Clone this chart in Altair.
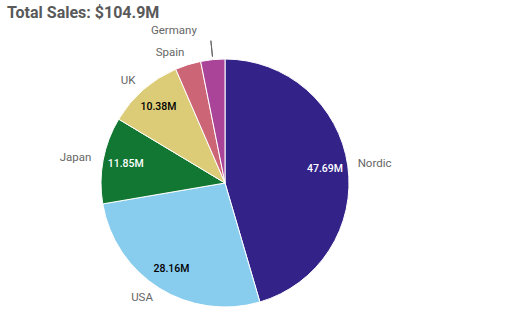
import altair as alt
import pandas as pd

regions = ["Nordic", "USA", "Japan", "UK", "Spain", "Germany"]
sales = [47.69, 28.16, 11.85, 10.38, 3.52, 3.30]
colors = ["#332288", "#88CCEE", "#117733", "#DDCC77", "#CC6677", "#AA4499"]
value_text = ["47.69M", "28.16M", "11.85M", "10.38M", "", ""]
value_color = ["white", "black", "white", "black", "black", "black"]

df = pd.DataFrame({
    "region": regions,
    "sales": sales,
    "order": list(range(len(regions))),
    "vlabel": value_text,
    "vcolor": value_color,
})

CX, CY = 225, 153
FONT = "Roboto"

base = alt.Chart(df).transform_joinaggregate(
    total="sum(sales)"
).transform_window(
    cum="sum(sales)", sort=[alt.SortField("order")], frame=[None, 0]
).transform_calculate(
    mid="(datum.cum - datum.sales / 2) / datum.total * 2 * PI",
    s="sin((datum.cum - datum.sales / 2) / datum.total * 2 * PI)",
)

pie = alt.Chart(df).mark_arc(radius=124, stroke="white", strokeWidth=1).encode(
    theta=alt.Theta("sales:Q", stack=True),
    color=alt.Color("region:N", scale=alt.Scale(domain=regions, range=colors), legend=None),
    order=alt.Order("order:Q"),
    x=alt.value(CX),
    y=alt.value(CY),
)

theta_mid = alt.Theta("mid:Q", scale=None, stack=False)

name_right = base.transform_filter("datum.region != 'Germany' && datum.s > 0").mark_text(
    radius=134, align="left", baseline="middle", fontSize=11.5, color="#666666", font=FONT
).encode(theta=theta_mid, text="region:N", x=alt.value(CX), y=alt.value(CY))

name_left = base.transform_filter("datum.region != 'Germany' && datum.s <= 0").mark_text(
    radius=136, align="right", baseline="middle", fontSize=11.5, color="#666666", font=FONT
).encode(theta=theta_mid, text="region:N", x=alt.value(CX), y=alt.value(CY))

name_germany = base.transform_filter("datum.region == 'Germany'").mark_text(
    radius=153, align="center", baseline="middle", fontSize=11.5, color="#666666", font=FONT, dx=-36
).encode(theta=theta_mid, text="region:N", x=alt.value(CX), y=alt.value(CY))

leader = base.transform_filter("datum.region == 'Germany'").mark_arc(
    radius=127, radius2=143, stroke="#666666", strokeWidth=1, fill=None
).encode(
    theta=theta_mid,
    theta2=alt.Theta2("mid:Q"),
    x=alt.value(CX),
    y=alt.value(CY),
)

values = base.transform_filter("datum.vlabel != ''").mark_text(
    radius=101, align="center", baseline="middle", fontSize=10.5, font=FONT, fontWeight=500
).encode(
    theta=theta_mid,
    text="vlabel:N",
    color=alt.Color("vcolor:N", scale=None),
    x=alt.value(CX),
    y=alt.value(CY),
)

chart = alt.layer(pie, leader, name_right, name_left, name_germany, values).properties(
    width=528,
    height=285,
    padding={"left": 0, "top": 30, "right": 0, "bottom": 0},
    autosize=alt.AutoSizeParams(type="none"),
    title=alt.TitleParams(
        "Total Sales: $104.9M", anchor="start", dx=7, offset=4,
        fontSize=16, font=FONT, fontWeight="bold", color="#595959",
    ),
).configure_view(stroke=None)

chart.save("out.html", embed_options={"renderer": "svg", "actions": False})
